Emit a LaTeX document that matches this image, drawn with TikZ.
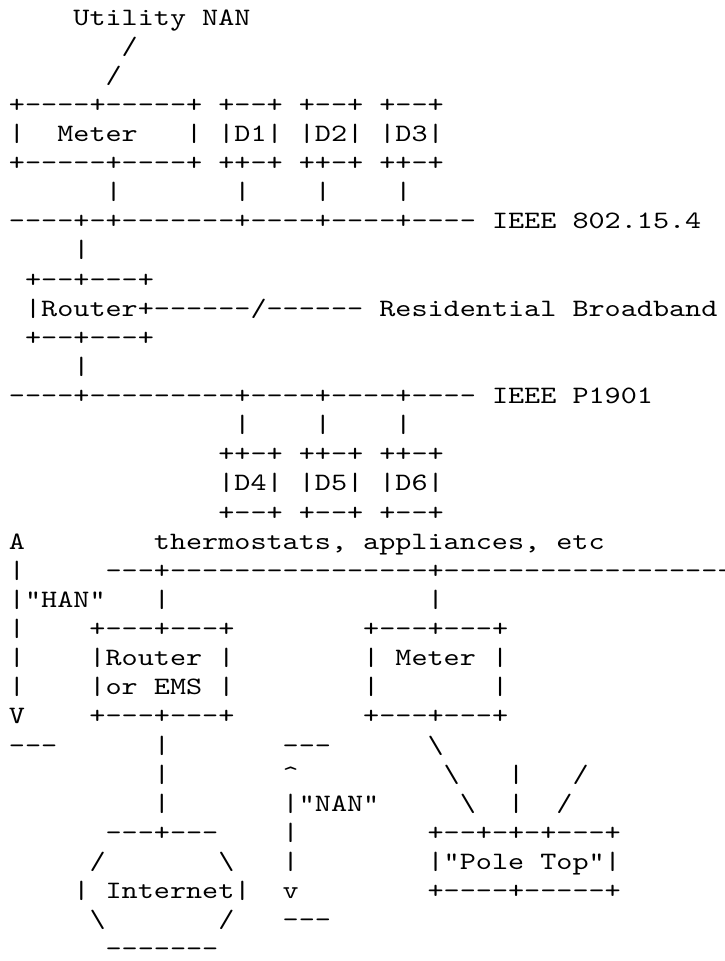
\documentclass[tikz,border=0pt]{standalone}
\usepackage{fontspec}
\setmonofont{lmmono10-regular.otf}[FakeStretch=1.2267]
\newcommand\bsl{\textbackslash}
\newcommand\crt{\textasciicircum}

\begin{document}
\begin{tikzpicture}[x=16.1pt,y=-29.12pt,
  asciirow/.style={anchor=base west,inner sep=0pt,outer sep=0pt,
    font=\ttfamily\fontsize{25pt}{29pt}\selectfont}]
\useasboundingbox (0pt,0pt) rectangle (725pt,-961pt);
\clip (0pt,0pt) rectangle (725pt,-961pt);
\begin{scope}[shift={(9pt,-25pt)}]
% upper part: 802.15.4 and P1901 segments
\node[asciirow] (utilnan) at (0,0) {~~~~Utility~NAN};
\node[asciirow] (slashA) at (0,1) {~~~~~~~/};
\node[asciirow] (slashB) at (0,2) {~~~~~~/};
\node[asciirow] (meterTop) at (0,3) {+----+-----+~+--+~+--+~+--+};
\node[asciirow] (meterRow) at (0,4) {|~~Meter~~~|~|D1|~|D2|~|D3|};
\node[asciirow] (meterBot) at (0,5) {+-----+----+~++-+~++-+~++-+};
\node[asciirow] (drops) at (0,6) {~~~~~~|~~~~~~~|~~~~|~~~~|};
\node[asciirow] (zigbee) at (0,7) {----+-+-------+----+----+----~IEEE~802.15.4};
\node[asciirow] (rtrUp) at (0,8) {~~~~|};
\node[asciirow] (rtrTop) at (0,9) {~+--+---+};
\node[asciirow] (rtrRow) at (0,10) {~|Router+------/------~Residential~Broadband};
\node[asciirow] (rtrBot) at (0,11) {~+--+---+};
\node[asciirow] (rtrDown) at (0,12) {~~~~|};
\node[asciirow] (plc) at (0,13) {----+---------+----+----+----~IEEE~P1901};
\node[asciirow] (plcDrops) at (0,14) {~~~~~~~~~~~~~~|~~~~|~~~~|};
\node[asciirow] (devTop) at (0,15) {~~~~~~~~~~~~~++-+~++-+~++-+};
\node[asciirow] (devRow) at (0,16) {~~~~~~~~~~~~~|D4|~|D5|~|D6|};
\node[asciirow] (devBot) at (0,17) {~~~~~~~~~~~~~+--+~+--+~+--+};
% lower part: HAN and NAN
\node[asciirow] (thermo) at (0,18) {A~~~~~~~~thermostats,~appliances,~etc};
\node[asciirow] (hanBus) at (0,19) {|~~~~~---+----------------+--------------------};
\node[asciirow] (hanLbl) at (0,20) {|"HAN"~~~|~~~~~~~~~~~~~~~~|};
\node[asciirow] (emsTop) at (0,21) {|~~~~+---+---+~~~~~~~~+---+---+};
\node[asciirow] (emsRowA) at (0,22) {|~~~~|Router~|~~~~~~~~|~Meter~|};
\node[asciirow] (emsRowB) at (0,23) {|~~~~|or~EMS~|~~~~~~~~|~~~~~~~|};
\node[asciirow] (emsBot) at (0,24) {V~~~~+---+---+~~~~~~~~+---+---+};
\node[asciirow] (nanTop) at (0,25) {---~~~~~~|~~~~~~~---~~~~~~\bsl};
\node[asciirow] (nanUp) at (0,26) {~~~~~~~~~|~~~~~~~\crt~~~~~~~~~\bsl~~~|~~~/};
\node[asciirow] (nanLbl) at (0,27) {~~~~~~~~~|~~~~~~~|"NAN"~~~~~\bsl~~|~~/};
\node[asciirow] (poleTop) at (0,28) {~~~~~~---+---~~~~|~~~~~~~~+--+-+-+---+};
\node[asciirow] (poleRow) at (0,29) {~~~~~/~~~~~~~\bsl~~~|~~~~~~~~|"Pole~Top"|};
\node[asciirow] (poleBot) at (0,30) {~~~~|~Internet|~~v~~~~~~~~+----+-----+};
\node[asciirow] (netLow) at (0,31) {~~~~~\bsl~~~~~~~/~~~---};
\node[asciirow] (netBot) at (0,32) {~~~~~~-------};
\end{scope}
\end{tikzpicture}
\end{document}
